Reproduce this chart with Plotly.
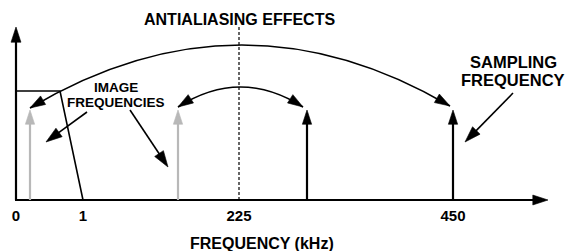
import plotly.graph_objects as go

# ---- schematic data (x in diagram units along a non-linear frequency axis, y = height above baseline)
tick_labels = ["0", "1", "225", "450"]
tick_pos = [16, 83, 239, 453]

image_tone_x = [30, 178]          # grey image components
real_tone_x = [307, 453]          # black components (alias + sampling freq)
tone_height = 90

filter_x = [16, 60, 83]
filter_y = [109, 109, 0]

axis_x_end = 548
axis_y_top = 173
nyquist_x = 239

# arcs: start, control, end
big_arc = dict(x=[30, 240, 450], y=[92, 217, 94])
small_arc = dict(x=[178, 240.5, 303], y=[93, 133, 93])

# label pointer arrows: (start, tip)
pointers = [
    ([87, 46], [88, 58]),
    ([130, 168], [90, 33]),
    ([513, 465], [107, 58]),
]

FONT = "Liberation Sans, Arial, Helvetica, sans-serif"
BLACK = "#000000"
GREY = "#b8b8b8"

fig = go.Figure()


def arrow(xs, ys, color=BLACK, width=2, size=17, line=True):
    fig.add_trace(go.Scatter(
        x=xs, y=ys,
        mode="lines+markers" if line else "markers",
        line=dict(color=color, width=width),
        marker=dict(symbol="arrow", size=[0] * (len(xs) - 1) + [size],
                    angleref="previous", color=color, opacity=1,
                    line=dict(width=0.6, color=color)),
        cliponaxis=False, hoverinfo="skip", showlegend=False,
    ))


# axes
arrow([filter_x[0] - 1, axis_x_end], [0, 0], width=2.2, size=16)
arrow([filter_x[0], filter_x[0]], [0, axis_y_top], width=2.2, size=16)

# filter response
fig.add_trace(go.Scatter(x=filter_x, y=filter_y, mode="lines",
                         line=dict(color=BLACK, width=1.6),
                         cliponaxis=False, hoverinfo="skip", showlegend=False))

# nyquist dashed line
fig.add_shape(type="line", x0=nyquist_x, x1=nyquist_x, y0=0, y1=axis_y_top,
              line=dict(color=BLACK, width=1.2, dash="3px,2px"), layer="below")

# tones
for x in image_tone_x:
    arrow([x, x], [0, tone_height], color=GREY, width=2.2, size=15)
for x in real_tone_x:
    arrow([x, x], [0, tone_height], color=BLACK, width=2.2, size=15)

# arcs
for arc in (big_arc, small_arc):
    xs, ys = arc["x"], arc["y"]
    fig.add_shape(type="path",
                  path=f"M {xs[0]},{ys[0]} Q {xs[1]},{ys[1]} {xs[2]},{ys[2]}",
                  line=dict(color=BLACK, width=1.6), layer="below")
    arrow([xs[1], xs[0]], [ys[1], ys[0]], line=False, size=16)
    arrow([xs[1], xs[2]], [ys[1], ys[2]], line=False, size=16)

# pointer arrows
for xs, ys in pointers:
    arrow(xs, ys, width=1.6, size=17)

# texts
def label(text, x, ypix, size):
    fig.add_annotation(text=text, x=x, xref="x", y=(203 - ypix) / 203, yref="paper",
                       showarrow=False, xanchor="center", yanchor="middle",
                       font=dict(family=FONT, size=size, color=BLACK, weight="bold"))

label("ANTIALIASING EFFECTS", 239, 20, 16)
label("IMAGE", 116, 87, 13.5)
label("FREQUENCIES", 116, 103, 13.5)
label("SAMPLING", 513, 62, 16.5)
label("FREQUENCY", 513, 80, 16.5)
label("FREQUENCY (kHz)", 262, 243, 16)

fig.update_layout(
    width=579, height=251,
    margin=dict(l=0, r=0, t=0, b=48, autoexpand=False),
    plot_bgcolor="white", paper_bgcolor="white",
    showlegend=False,
)
fig.update_xaxes(range=[0, 579], showgrid=False, zeroline=False, showline=False,
                 tickvals=tick_pos, ticktext=tick_labels, ticks="",
                 tickfont=dict(family=FONT, size=15, color=BLACK, weight="bold"),
                 ticklabelstandoff=2, automargin=False)
fig.update_yaxes(range=[-3, 200], visible=False)

fig.write_html("out.html", config={"displayModeBar": False},
               post_script="document.body.style.margin='0';document.body.style.padding='0';")
